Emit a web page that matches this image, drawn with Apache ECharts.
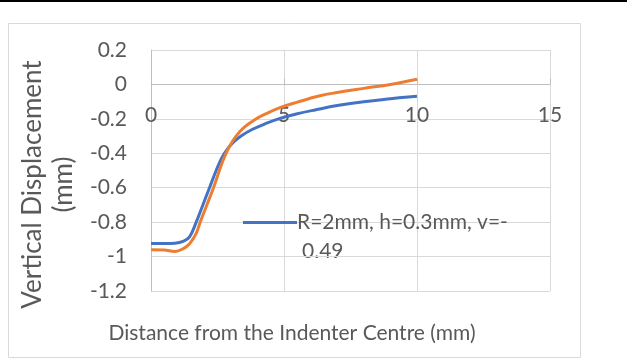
<!DOCTYPE html>
<html><head><meta charset="utf-8">
<script src="https://cdn.jsdelivr.net/npm/echarts@6/dist/echarts.min.js"></script>
<style>html,body{margin:0;padding:0;background:#fff}#c{width:627px;height:360px}</style>
</head><body><div id="c"></div>
<script>
const xTicks = [0, 5, 10, 15];
const yTicks = [-1.2, -1, -0.8, -0.6, -0.4, -0.2, 0, 0.2];
const xBlue = [0, 0.5, 0.9, 1.2, 1.45, 1.7, 1.95, 2.2, 2.45, 2.65, 2.85, 3.1, 3.4, 3.8, 4.3, 4.85, 5.5, 6.2, 7, 8, 9, 10];
const blueY = [-0.924, -0.924, -0.922, -0.912, -0.885, -0.8, -0.7, -0.6, -0.5, -0.43, -0.38, -0.335, -0.298, -0.262, -0.228, -0.197, -0.17, -0.147, -0.123, -0.1, -0.083, -0.068];
const xOrange = [0, 0.5, 0.9, 1.2, 1.45, 1.7, 1.85, 2.1, 2.35, 2.55, 2.75, 2.95, 3.2, 3.5, 3.9, 4.3, 4.85, 5.5, 6.35, 7, 8, 9, 10];
const orangeY = [-0.96, -0.962, -0.97, -0.955, -0.925, -0.865, -0.8, -0.7, -0.6, -0.51, -0.425, -0.36, -0.3, -0.25, -0.205, -0.172, -0.135, -0.103, -0.066, -0.047, -0.023, 0.0, 0.03];
const legendName = 'R=2mm, h=0.3mm, v=-0.49';
const legendLine1 = 'R=2mm, h=0.3mm, v=-';
const legendLine2 = '0.49';
const xTitle = 'Distance from the Indenter Centre (mm)';
const yTitle = 'Vertical Displacement\n(mm)';

const FONT = 'Lato';
const FS = 21;
const TXT = '#595959';
const GRID = '#d9d9d9';
const chart = echarts.init(document.getElementById('c'), null, {renderer: 'canvas'});
chart.setOption({
  animation: false,
  textStyle: {fontFamily: FONT},
  title: {
    text: xTitle, left: 292, top: 323, textAlign: 'center', padding: 0,
    textStyle: {fontFamily: FONT, fontSize: FS, fontWeight: 'normal', color: TXT}
  },
  legend: {
    data: [legendName], left: 243, top: 212, padding: 0, itemWidth: 54, itemHeight: 24, itemGap: 0,
    icon: 'path://M0,10.5 L54,10.5 L54,13.5 L0,13.5 Z',
    formatter: () => legendLine1,
    textStyle: {fontFamily: FONT, fontSize: FS, color: TXT, padding: [0,0,0,-5]}
  },
  grid: {left: 151, right: 77, top: 50, bottom: 69, containLabel: false},
  xAxis: {
    type: 'value', min: 0, max: 15, interval: 5,
    offset: -206.57,
    axisLine: {show: true, onZero: false, lineStyle: {color: '#bfbfbf'}},
    axisTick: {show: true, inside: true, length: 6, lineStyle: {color: '#bfbfbf'}},
    axisLabel: {margin: 20, fontFamily: FONT, fontSize: FS, color: TXT},
    splitLine: {show: true, lineStyle: {color: GRID, width: 1}}
  },
  yAxis: {
    type: 'value', min: -1.2, max: 0.2, interval: 0.2,
    name: yTitle, nameLocation: 'middle', nameRotate: 90, nameGap: 63,
    nameTextStyle: {fontFamily: FONT, fontSize: 26, color: TXT, lineHeight: 31, padding: [0, 28, 0, 0]},
    axisLine: {show: true, lineStyle: {color: '#bfbfbf'}},
    axisTick: {show: false},
    axisLabel: {margin: 24, fontFamily: FONT, fontSize: FS, color: TXT,
      formatter: v => String(+v.toFixed(1))},
    splitLine: {show: true, lineStyle: {color: GRID, width: 1}}
  },
  graphic: [
    {type: 'rect', shape: {x: 0, y: 0, width: 627, height: 2}, style: {fill: '#000'}},
    {type: 'rect', shape: {x: 8.5, y: 23.5, width: 572, height: 334}, style: {fill: 'none', stroke: GRID, lineWidth: 1}, z: -1},
    {type: 'text', left: 302, top: 241, style: {text: legendLine2, font: FS + 'px Lato', fill: TXT}}
  ],
  series: [
    {name: legendName, type: 'line', smooth: 0.4, showSymbol: false, symbol: 'none',
      lineStyle: {color: '#4472C4', width: 3}, itemStyle: {color: '#4472C4'},
      data: xBlue.map((x, i) => [x, blueY[i]])},
    {name: 'R=2mm, h=0.3mm, v=0.3', type: 'line', smooth: 0.4, showSymbol: false, symbol: 'none',
      lineStyle: {color: '#ED7D31', width: 3}, itemStyle: {color: '#ED7D31'},
      data: xOrange.map((x, i) => [x, orangeY[i]])}
  ]
});
</script></body></html>
